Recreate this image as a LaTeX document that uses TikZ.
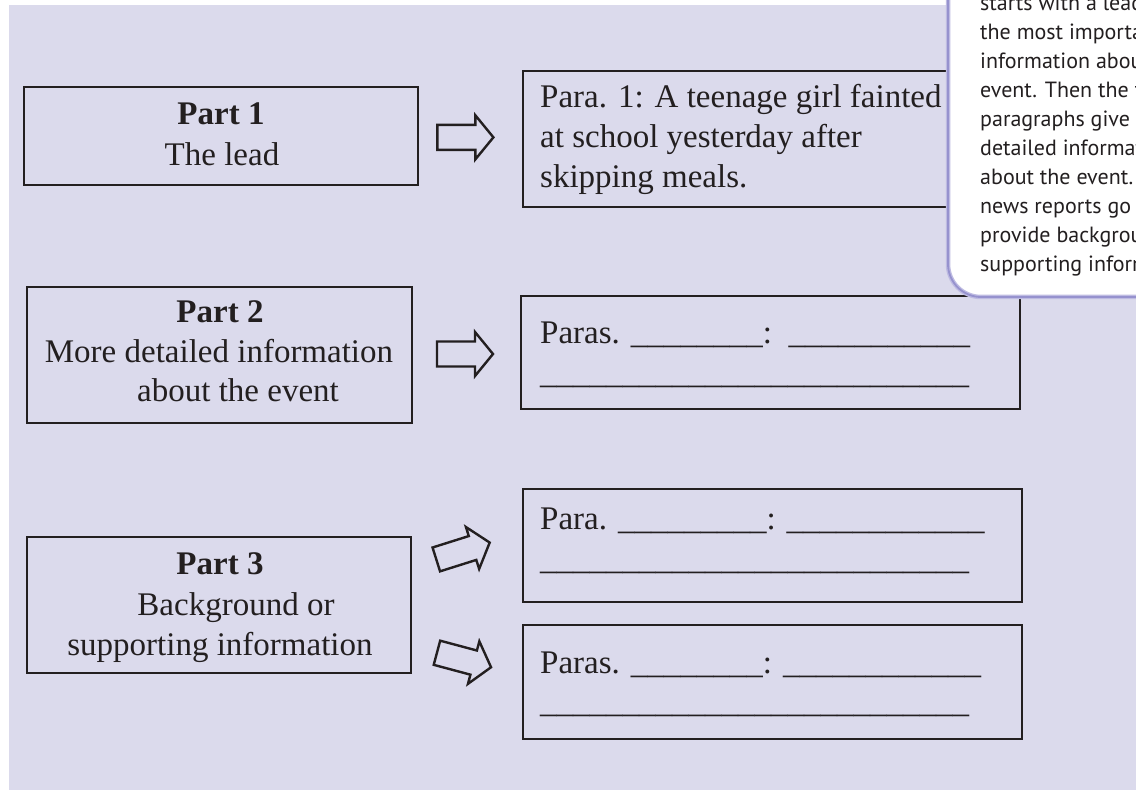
\documentclass[tikz,border=0pt]{standalone}
\usepackage{fontspec}
\setmainfont{Liberation Serif}
\newfontfamily\notefont{PT Sans}
\usetikzlibrary{calc}

\definecolor{pagebg}{RGB}{219,218,236}
\definecolor{ink}{RGB}{35,31,32}
\definecolor{noteedge}{RGB}{150,146,206}
\definecolor{noteglow}{RGB}{190,187,226}

\tikzset{
  partbox/.style={draw=ink, line width=2.8pt, inner sep=0pt},
  bodytext/.style={anchor=base, inner sep=0pt, text=ink,
    font=\fontsize{33}{40}\selectfont},
  leftline/.style={bodytext, anchor=base west},
  heading/.style={bodytext, font=\fontsize{33}{40}\selectfont\bfseries},
  notetext/.style={anchor=base west, inner sep=0pt, text=ink,
    font=\notefont\fontsize{22}{29}\selectfont},
  arrowline/.style={draw=ink, line width=2.4pt, line join=miter},
  blockarrow/.pic={
    \draw[arrowline] (-28,-12.5) -- (10,-12.5) -- (10,-22) -- (28,0)
      -- (10,22) -- (10,12.5) -- (-28,12.5) -- cycle;
  }
}

\begin{document}
\begin{tikzpicture}[x=1pt,y=-1pt]
\useasboundingbox (0,0) rectangle (1136,791);

% page background
\fill[pagebg] (9,5) rectangle (1136,790);

% left column: the three parts
\node[partbox, minimum width=394pt, minimum height=98pt]  (p1) at (221,136) {};
\node[partbox, minimum width=385pt, minimum height=136pt] (p2) at (219.5,355) {};
\node[partbox, minimum width=384pt, minimum height=136pt] (p3) at (219,605) {};

\node[heading]  (p1a) at (221,125) {Part 1};
\node[bodytext] (p1b) at (222,166) {The lead};

\node[heading]  (p2a) at (220,323) {Part 2};
\node[bodytext] (p2b) at (219,363) {More detailed information};
\node[bodytext] (p2c) at (238,402) {about the event};

\node[heading]  (p3a) at (220,574) {Part 3};
\node[bodytext] (p3b) at (236,615) {Background or};
\node[bodytext] (p3c) at (220,655) {supporting information};

% right column: paragraph boxes
\node[partbox, minimum width=497pt, minimum height=136pt] (r1)  at (771.5,139) {};
\node[partbox, minimum width=499pt, minimum height=113pt] (r2)  at (770.5,352.5) {};
\node[partbox, minimum width=499pt, minimum height=113pt] (r3a) at (772.5,545.5) {};
\node[partbox, minimum width=499pt, minimum height=114pt] (r3b) at (772.5,682) {};

\node[leftline] (r1a) at (540,108) {Para. 1: A teenage girl fainted};
\node[leftline] (r1b) at (540,148) {at school yesterday after};
\node[leftline] (r1c) at (540,188) {skipping meals.};

\node[leftline] (r2a) at (540,343.5) {Paras. \_\_\_\_\_\_\_\_:\ \ \_\_\_\_\_\_\_\_\_\_\_};
\node[leftline] (r2b) at (540,383.5) {\_\_\_\_\_\_\_\_\_\_\_\_\_\_\_\_\_\_\_\_\_\_\_\_\_\_};

\node[leftline] (r3a1) at (540,529.5) {Para. \_\_\_\_\_\_\_\_\_: \_\_\_\_\_\_\_\_\_\_\_\_};
\node[leftline] (r3a2) at (540,569.5) {\_\_\_\_\_\_\_\_\_\_\_\_\_\_\_\_\_\_\_\_\_\_\_\_\_\_};

\node[leftline] (r3b1) at (540,673.5) {Paras. \_\_\_\_\_\_\_\_: \_\_\_\_\_\_\_\_\_\_\_\_};
\node[leftline] (r3b2) at (540,712.5) {\_\_\_\_\_\_\_\_\_\_\_\_\_\_\_\_\_\_\_\_\_\_\_\_\_\_};

% block arrows between the columns
\pic (arr1)  at ($(p1.east)!0.45!(r1.west)$) {blockarrow};
\pic (arr2)  at (465,354) {blockarrow};
\pic[rotate=17.5] (arr3a) at (463,551) {blockarrow};
\pic[rotate=-15]  (arr3b) at (464,660) {blockarrow};

% side note card
\path[fill=white, draw=noteglow, line width=4.5pt, rounded corners=33pt]
  (948,-60) -- (948,297) -- (1220,297) -- (1220,-60) -- cycle;
\draw[noteedge, line width=1.8pt, rounded corners=33pt]
  (948,-60) -- (948,297) -- (1220,297);

\node[notetext] (n1)  at (980,11)  {starts with a lead};
\node[notetext] (n2)  at (980,40)  {the most important};
\node[notetext] (n3)  at (980,69)  {information about};
\node[notetext] (n4)  at (980,98)  {event. Then the following};
\node[notetext] (n5)  at (980,127) {paragraphs give};
\node[notetext] (n6)  at (980,156) {detailed information};
\node[notetext] (n7)  at (980,185) {about the event.};
\node[notetext] (n8)  at (980,214) {news reports go};
\node[notetext] (n9)  at (980,243) {provide background};
\node[notetext] (n10) at (980,272) {supporting information};
\end{tikzpicture}
\end{document}
